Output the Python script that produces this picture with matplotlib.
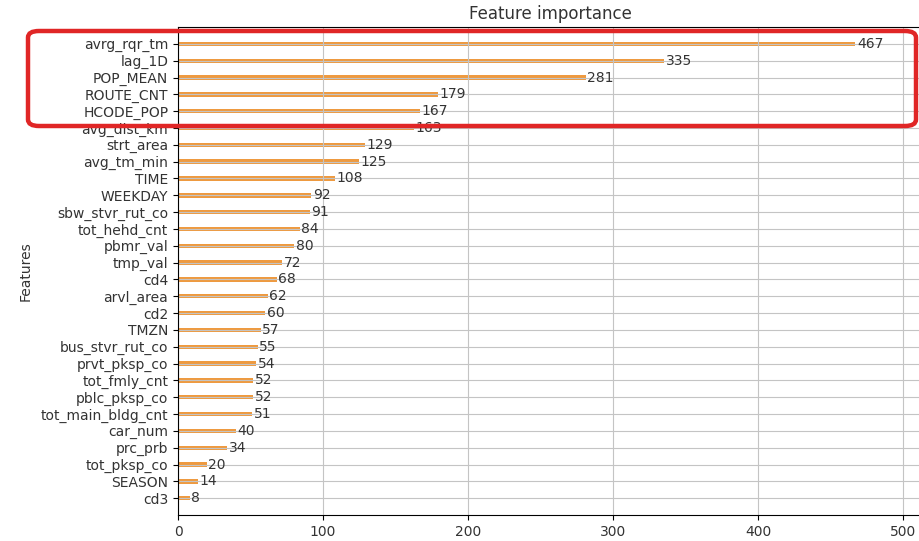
import matplotlib
matplotlib.use("Agg")
import matplotlib.pyplot as plt
from matplotlib.patches import FancyBboxPatch

# feature importance (split counts), sorted high -> low
features = ["avrg_rqr_tm", "lag_1D", "POP_MEAN", "ROUTE_CNT", "HCODE_POP",
            "avg_dist_km", "strt_area", "avg_tm_min", "TIME", "WEEKDAY",
            "sbw_stvr_rut_co", "tot_hehd_cnt", "pbmr_val", "tmp_val", "cd4",
            "arvl_area", "cd2", "TMZN", "bus_stvr_rut_co", "prvt_pksp_co",
            "tot_fmly_cnt", "pblc_pksp_co", "tot_main_bldg_cnt", "car_num",
            "prc_prb", "tot_pksp_co", "SEASON", "cd3"]
importance = [467, 335, 281, 179, 167, 163, 129, 125, 108, 92,
              91, 84, 80, 72, 68, 62, 60, 57, 55, 54,
              52, 52, 51, 40, 34, 20, 14, 8]

BAR_COLOR = "#ee9a40"
BOX_RED = "#e02626"

# plot from the smallest one at the bottom
labels = features[::-1]
values = importance[::-1]
ylocs = list(range(len(values)))

fig = plt.figure(figsize=(9.2, 5.41), dpi=100)
ax = fig.add_axes([0.1935, 0.048, 0.81, 0.902])

ax.barh(ylocs, values, align="center", height=0.26, color=BAR_COLOR)
for x, y in zip(values, ylocs):
    ax.text(x + 1, y, str(x), va="center", fontsize=10, color="#333333")

ax.set_yticks(ylocs)
ax.set_yticklabels(labels, fontsize=10, color="#333333")
ax.tick_params(axis="x", labelsize=10, labelcolor="#333333")
ax.set_xlim(0, max(values) * 1.1)
ax.set_ylim(-1, len(values))
ax.grid(True, color="#c4c4c4", linewidth=0.8)
ax.set_title("Feature importance", fontsize=12, color="#333333")
ax.set_ylabel("Features", fontsize=10, color="#333333", labelpad=6)

# highlight frame around the top five features
frame = FancyBboxPatch((28 / 920, 1 - 126 / 541), 888 / 920, 95 / 541,
                       boxstyle="round,pad=0,rounding_size=0.012",
                       transform=fig.transFigure, facecolor="none",
                       edgecolor=BOX_RED, linewidth=3.2, zorder=10,
                       clip_on=False)
fig.patches.append(frame)

fig.savefig("out.png", dpi=100)
